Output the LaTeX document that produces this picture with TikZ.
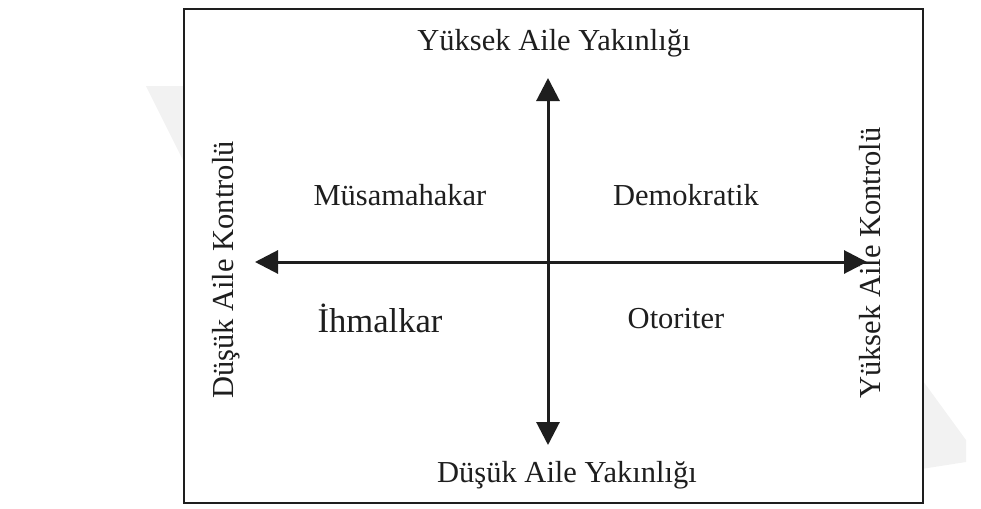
\documentclass[tikz,border=0pt]{standalone}
\usepackage{fontspec}
\setmainfont{Liberation Serif}
\usetikzlibrary{arrows.meta}
\definecolor{ink}{HTML}{1E1E1E}
\definecolor{wm}{HTML}{F2F2F2}
\tikzset{
  lbl/.style={font=\fontsize{15.25}{18}\selectfont, text=ink, inner sep=0pt, anchor=base},
  biglbl/.style={lbl, font=\fontsize{17.3}{20}\selectfont},
  axis/.style={draw=ink, line width=1.5pt, {Triangle[length=11.5pt,width=11.5pt]}-{Triangle[length=11.5pt,width=11.5pt]}},
  frame/.style={draw=ink, line width=1.3pt, fill=white}
}
\begin{document}
\begin{tikzpicture}[x=0.5pt,y=-0.5pt]
\useasboundingbox (0,0) rectangle (981,509);
% faint watermark
\fill[wm] (146,86) -- (192,86) -- (192,178) -- cycle;
\fill[wm] (915,370) -- (966,440) -- (966,462) -- (915,470) -- cycle;
% frame
\draw[frame] (184,9) rectangle (923,503);
% axis end points
\coordinate (L) at (255,262);
\coordinate (R) at (867,262);
\coordinate (T) at (548,78);
\coordinate (B) at (548,445);
\draw[axis] (L) -- (R);
\draw[axis] (B) -- (T);
% labels
\node[lbl] (top) at (554,50) {Yüksek Aile Yakınlığı};
\node[lbl] (bottom) at (567,482) {Düşük Aile Yakınlığı};
\node[lbl, rotate=90] (left) at (233,270) {Düşük Aile Kontrolü};
\node[lbl, rotate=90] (right) at (880,263) {Yüksek Aile Kontrolü};
\node[lbl] (q1) at (400,205) {Müsamahakar};
\node[lbl] (q2) at (686,205) {Demokratik};
\node[biglbl] (q3) at (380,332) {İhmalkar};
\node[lbl] (q4) at (676,328) {Otoriter};
\end{tikzpicture}
\end{document}
